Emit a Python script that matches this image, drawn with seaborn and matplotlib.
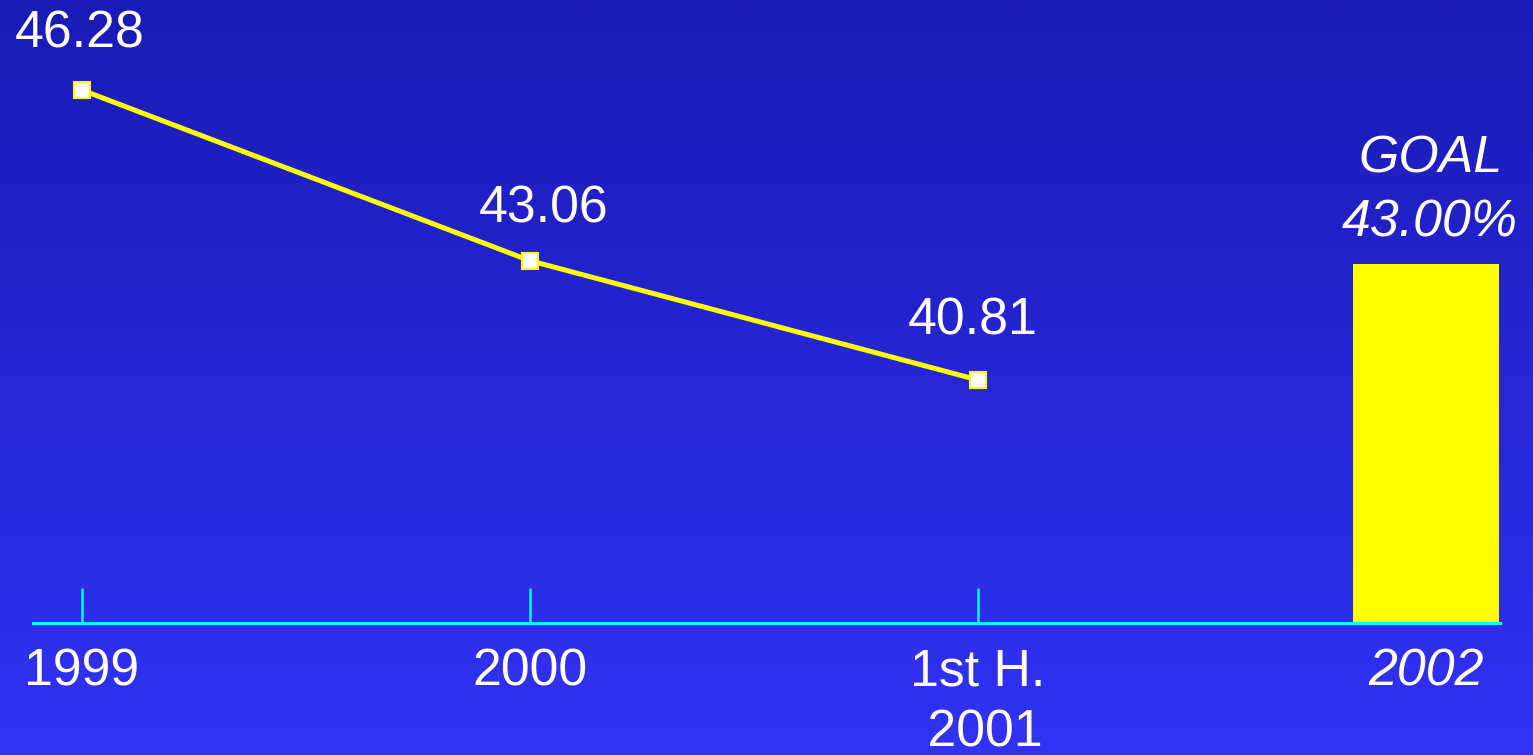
import numpy as np
import pandas as pd
import matplotlib
matplotlib.use("Agg")
import matplotlib.pyplot as plt
import seaborn as sns
from matplotlib.colors import LinearSegmentedColormap

# Chart data
periods = ["1999", "2000", "1st H.\n 2001", "2002"]
actual_values = [46.28, 43.06, 40.81]
goal_value = 43.00
goal_title = "GOAL"

sns.set_theme(style="white")
plt.rcParams["font.family"] = ["Liberation Sans", "DejaVu Sans"]

W, H = 1533, 755
fig = plt.figure(figsize=(W / 100, H / 100), dpi=100)

# Vertical blue gradient background
bg = fig.add_axes([0, 0, 1, 1], zorder=0)
grad = np.linspace(0, 1, 256).reshape(-1, 1)
cmap = LinearSegmentedColormap.from_list("bg", ["#1a1ab4", "#3232f5"])
bg.imshow(grad, aspect="auto", cmap=cmap, extent=[0, 1, 0, 1], origin="upper")
bg.axis("off")

# Main plotting area
ax = fig.add_axes([33 / W, 132 / H, (1500 - 33) / W, 623 / H], zorder=1)
ax.patch.set_alpha(0)

# Goal bar (last period only)
bar_df = pd.DataFrame({"period": [periods[3]], "value": [goal_value]})
sns.barplot(data=bar_df, x="period", y="value", order=periods, color="#ffff00",
            saturation=1, width=0.326, errorbar=None, ax=ax, linewidth=0)

# Actual values line
line_df = pd.DataFrame({"pos": np.arange(len(actual_values)), "value": actual_values})
sns.lineplot(data=line_df, x="pos", y="value", ax=ax, color="#ffff00", lw=3.6,
             marker="s", markersize=11, markerfacecolor="white",
             markeredgecolor="#ffff00", markeredgewidth=1.5, zorder=3)

ax.set_xlim(-0.109, 3.166)
ax.set_ylim(36.223, 47.978)
ax.set_xlabel("")
ax.set_ylabel("")

# Value labels
fs = 37.4
offsets = [(-2, 42), (14, 38), (-5, 45)]
for i, (v, (dx, dy)) in enumerate(zip(actual_values, offsets)):
    ax.annotate(f"{v:.2f}", xy=(i, v), xytext=(dx, dy), textcoords="offset pixels",
                ha="center", va="baseline", fontsize=fs, color="white")

ax.annotate(f"{goal_value:.2f}%", xy=(3, goal_value), xytext=(4, 27),
            textcoords="offset pixels", ha="center", va="baseline",
            fontsize=fs, color="white", style="italic")
ax.annotate(goal_title, xy=(3, goal_value), xytext=(5, 91),
            textcoords="offset pixels", ha="center", va="baseline",
            fontsize=fs, color="white", style="italic")

# Axis styling
for side in ["left", "right", "top"]:
    ax.spines[side].set_visible(False)
ax.spines["bottom"].set_color("#00ffff")
ax.spines["bottom"].set_linewidth(2.2)
ax.spines["bottom"].set_zorder(4)

ax.set_xticks(range(len(periods)))
ax.set_xticklabels(periods, linespacing=1.3)
ax.set_yticks([])
ax.tick_params(axis="x", bottom=True, direction="in", length=25.2, width=1.8,
               color="#00ffff", pad=18, labelsize=fs, labelcolor="white")
ax.xaxis.get_major_ticks()[3].tick1line.set_visible(False)
ax.get_xticklabels()[3].set_style("italic")

fig.savefig("out.png", dpi=100)
